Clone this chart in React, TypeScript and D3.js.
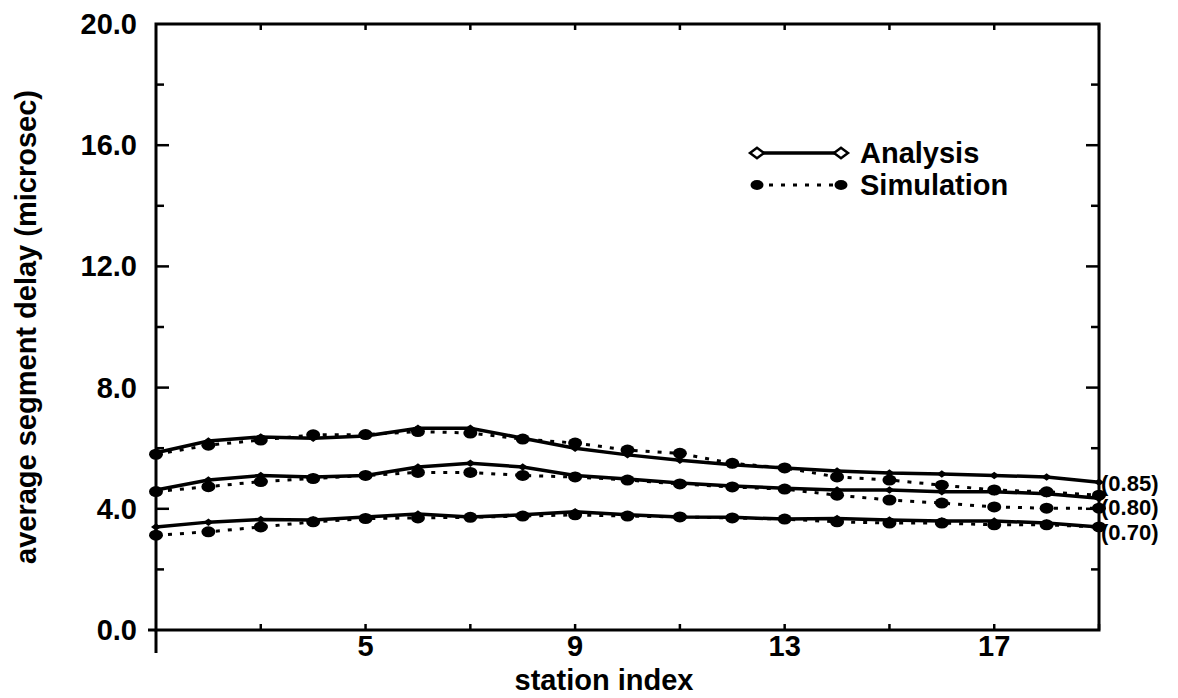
import React from "react";
import * as d3 from "d3";

const stations = [1, 2, 3, 4, 5, 6, 7, 8, 9, 10, 11, 12, 13, 14, 15, 16, 17, 18, 19];
const xTickLabels = [5, 9, 13, 17];
const xMinorTicks = [3, 7, 11, 15, 19];
const yTickLabels = [0, 4, 8, 12, 16, 20];
const yMinorTicks = [2, 6, 10, 14, 18];

const analysis85 = [5.85, 6.24, 6.37, 6.33, 6.4, 6.66, 6.66, 6.33, 6.0, 5.78, 5.6, 5.45, 5.35, 5.25, 5.18, 5.15, 5.1, 5.05, 4.88];
const simulation85 = [5.8, 6.1, 6.27, 6.44, 6.45, 6.55, 6.5, 6.3, 6.17, 5.94, 5.83, 5.5, 5.35, 5.05, 4.95, 4.78, 4.62, 4.56, 4.45];
const analysis80 = [4.62, 4.95, 5.1, 5.05, 5.1, 5.38, 5.5, 5.38, 5.1, 4.98, 4.85, 4.75, 4.68, 4.62, 4.62, 4.56, 4.56, 4.5, 4.35];
const simulation80 = [4.57, 4.73, 4.9, 5.0, 5.1, 5.2, 5.2, 5.1, 5.05, 4.95, 4.82, 4.72, 4.65, 4.45, 4.29, 4.19, 4.06, 4.02, 4.02];
const analysis70 = [3.4, 3.56, 3.65, 3.63, 3.73, 3.83, 3.73, 3.8, 3.9, 3.8, 3.73, 3.72, 3.66, 3.68, 3.63, 3.6, 3.6, 3.53, 3.4];
const simulation70 = [3.13, 3.24, 3.4, 3.57, 3.68, 3.7, 3.72, 3.76, 3.8, 3.76, 3.73, 3.7, 3.66, 3.57, 3.53, 3.53, 3.47, 3.47, 3.4];

const loadLabels = ["(0.85)", "(0.80)", "(0.70)"];
const loadLabelValues = [4.85, 4.05, 3.22];

const analysisSeries = [analysis85, analysis80, analysis70];
const simulationSeries = [simulation85, simulation80, simulation70];

const W = 1178;
const H = 698;
const FONT = "'Liberation Sans', Arial, Helvetica, sans-serif";

export default function App() {
  const x = d3.scaleLinear().domain([1, 19]).range([156, 1099]);
  const y = d3.scaleLinear().domain([0, 20]).range([630, 24]);
  const line = d3
    .line<number>()
    .x((_, i) => x(stations[i]))
    .y((d) => y(d));

  const x0 = x(1);
  const x1 = x(19);
  const y0 = y(0);
  const y1 = y(20);

  const diamond = (cx: number, cy: number, r: number) =>
    `M${cx - r},${cy} L${cx},${cy - r * 0.75} L${cx + r},${cy} L${cx},${cy + r * 0.75} Z`;

  return (
    <svg
      width={W}
      height={H}
      style={{ position: "absolute", left: 0, top: 0, background: "#fff" }}
      fontFamily={FONT}
      fontWeight="bold"
    >
      {/* frame */}
      <rect x={x0} y={y1} width={x1 - x0} height={y0 - y1} fill="none" stroke="#000" strokeWidth={3} />
      <line x1={x0} x2={x0} y1={y0} y2={y0 + 23} stroke="#000" strokeWidth={3} />
      <line x1={x0 - 8} x2={x0} y1={y0} y2={y0} stroke="#000" strokeWidth={3} />

      {/* y ticks */}
      {yTickLabels.slice(1, -1).map((v) => (
        <g key={"yt" + v}>
          <line x1={x0} x2={x0 + 13} y1={y(v)} y2={y(v)} stroke="#000" strokeWidth={2.5} />
          <line x1={x1} x2={x1 - 13} y1={y(v)} y2={y(v)} stroke="#000" strokeWidth={2.5} />
        </g>
      ))}
      {yMinorTicks.map((v) => (
        <g key={"ym" + v}>
          <line x1={x0} x2={x0 + 8} y1={y(v)} y2={y(v)} stroke="#000" strokeWidth={2.5} />
          <line x1={x1} x2={x1 - 8} y1={y(v)} y2={y(v)} stroke="#000" strokeWidth={2.5} />
        </g>
      ))}
      {yTickLabels.map((v) => (
        <text key={"yl" + v} x={137} y={y(v)} textAnchor="end" dominantBaseline="central" fontSize={29}>
          {v.toFixed(1)}
        </text>
      ))}

      {/* x ticks */}
      {xTickLabels.concat(xMinorTicks).map((v) => (
        <g key={"xt" + v}>
          <line x1={x(v)} x2={x(v)} y1={y0} y2={y0 - 6} stroke="#000" strokeWidth={2.5} />
          <line x1={x(v)} x2={x(v)} y1={y1} y2={y1 + 6} stroke="#000" strokeWidth={2.5} />
        </g>
      ))}
      {xTickLabels.map((v) => (
        <text key={"xl" + v} x={x(v)} y={656} textAnchor="middle" fontSize={29}>
          {v}
        </text>
      ))}

      {/* axis titles */}
      <text x={604} y={690} textAnchor="middle" fontSize={29}>
        station index
      </text>
      <text transform={`translate(36,327) rotate(-90)`} textAnchor="middle" fontSize={29}>
        average segment delay (microsec)
      </text>

      {/* simulation series */}
      {simulationSeries.map((s, k) => (
        <g key={"s" + k}>
          <path d={line(s) || ""} fill="none" stroke="#000" strokeWidth={3} strokeDasharray="4 8" />
          {s.map((v, i) => (
            <ellipse key={i} cx={x(stations[i])} cy={y(v)} rx={7} ry={5.5} fill="#000" />
          ))}
        </g>
      ))}

      {/* analysis series */}
      {analysisSeries.map((s, k) => (
        <g key={"a" + k}>
          <path d={line(s) || ""} fill="none" stroke="#000" strokeWidth={3.5} />
          {s.map((v, i) => (
            <path key={i} d={diamond(x(stations[i]), y(v), 5)} fill="#000" />
          ))}
        </g>
      ))}

      {/* load labels */}
      {loadLabels.map((t, k) => (
        <text key={t} x={1101} y={y(loadLabelValues[k])} dominantBaseline="central" fontSize={22}>
          {t}
        </text>
      ))}

      {/* legend */}
      <line x1={756} x2={842} y1={153} y2={153} stroke="#000" strokeWidth={3.5} />
      <path d={diamond(757, 153, 7)} fill="#fff" stroke="#000" strokeWidth={2.5} />
      <path d={diamond(841, 153, 7)} fill="#fff" stroke="#000" strokeWidth={2.5} />
      <text x={860} y={153} dominantBaseline="central" fontSize={29}>
        Analysis
      </text>
      <line x1={757} x2={841} y1={185} y2={185} stroke="#000" strokeWidth={3} strokeDasharray="4 8" />
      <ellipse cx={757} cy={185} rx={6.5} ry={5} fill="#000" />
      <ellipse cx={841} cy={185} rx={6.5} ry={5} fill="#000" />
      <text x={860} y={185} dominantBaseline="central" fontSize={29}>
        Simulation
      </text>
    </svg>
  );
}
